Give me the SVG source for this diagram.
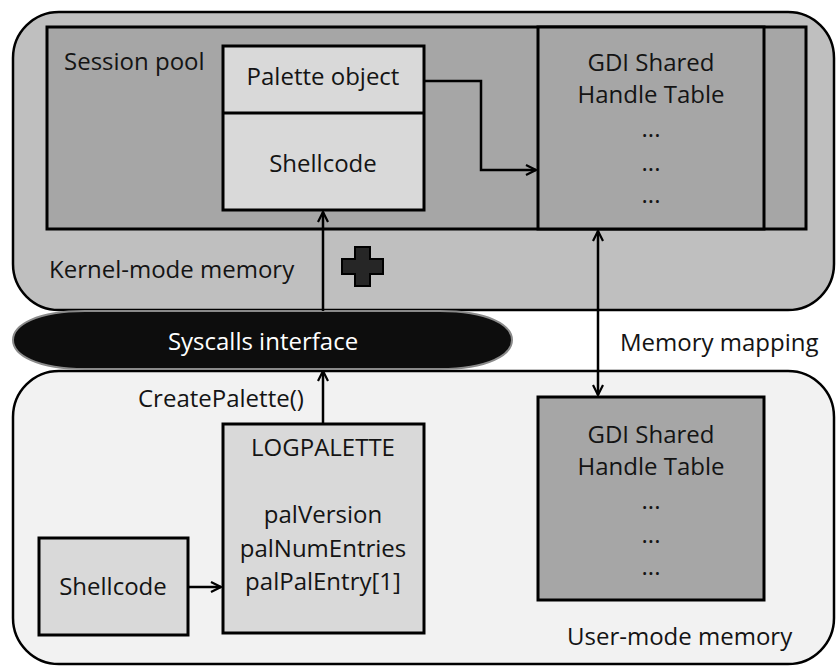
<svg xmlns="http://www.w3.org/2000/svg" width="836" height="666" viewBox="0 0 836 666">
  <style>
    text { font-family: "Open Sans", "Liberation Sans", sans-serif; font-size: 24px; fill: #141414; }
    .c { text-anchor: middle; }
    .w { fill: #ffffff; }
    .box { stroke: #000; stroke-width: 3; }
    .line { fill: none; stroke: #000; stroke-width: 2.5; }
  </style>
  <defs>
    <marker id="arrow" viewBox="0 0 12 12" refX="11" refY="6" markerWidth="12" markerHeight="12" markerUnits="userSpaceOnUse" orient="auto-start-reverse">
      <path d="M1,1 L11,6 L1,11" fill="none" stroke="#000" stroke-width="2.2"/>
    </marker>
  </defs>

  <rect width="836" height="666" fill="#ffffff"/>

  <!-- Kernel-mode memory region -->
  <g id="kernel-mode">
    <rect x="13" y="12" width="821" height="298" rx="46" ry="46" fill="#bfbfbf" stroke="#000" stroke-width="2.5"/>
    <text x="49" y="278">Kernel-mode memory</text>
  </g>

  <!-- Session pool -->
  <g id="session-pool">
    <rect x="47" y="27" width="759" height="202" fill="#a6a6a6" class="box"/>
    <text x="64" y="70">Session pool</text>
  </g>

  <!-- Kernel-side GDI shared handle table -->
  <g id="gdi-table-kernel">
    <rect x="538" y="27" width="226" height="202" fill="#a6a6a6" class="box"/>
    <text class="c" x="651" y="71">GDI Shared</text>
    <text class="c" x="651" y="103">Handle Table</text>
    <text class="c" x="651" y="137">...</text>
    <text class="c" x="651" y="171">...</text>
    <text class="c" x="651" y="203">...</text>
  </g>

  <!-- Palette object with embedded shellcode -->
  <g id="palette-object">
    <rect x="223" y="46" width="201" height="164" fill="#d9d9d9" class="box"/>
    <line x1="223" y1="113" x2="424" y2="113" stroke="#000" stroke-width="3"/>
    <text class="c" x="323" y="85">Palette object</text>
    <text class="c" x="323" y="172">Shellcode</text>
  </g>

  <!-- Plus sign -->
  <g id="plus">
    <path d="M355,247 H370 V259 H383 V274 H370 V286 H355 V274 H342 V259 H355 Z" fill="#262626" stroke="#000" stroke-width="2"/>
  </g>

  <!-- User-mode memory region -->
  <g id="user-mode">
    <rect x="13" y="371" width="821" height="293" rx="46" ry="46" fill="#f2f2f2" stroke="#000" stroke-width="2.5"/>
    <text x="567" y="645">User-mode memory</text>
  </g>

  <!-- Syscalls interface -->
  <g id="syscalls">
    <path d="M85,311 H440 C488,311 512,325 512,340 C512,355 488,369 440,369 H85 C37,369 13,355 13,340 C13,325 37,311 85,311 Z" fill="#0d0d0d" stroke="#8a8a8a" stroke-width="2"/>
    <text class="c w" x="263" y="350">Syscalls interface</text>
  </g>

  <g id="memory-mapping-label">
    <text x="620" y="351">Memory mapping</text>
  </g>

  <g id="create-palette-label">
    <text x="138" y="407">CreatePalette()</text>
  </g>

  <!-- LOGPALETTE structure -->
  <g id="logpalette">
    <rect x="223" y="424" width="201" height="209" fill="#d9d9d9" class="box"/>
    <text class="c" x="323" y="456">LOGPALETTE</text>
    <text class="c" x="323" y="523">palVersion</text>
    <text class="c" x="323" y="557">palNumEntries</text>
    <text class="c" x="323" y="590">palPalEntry[1]</text>
  </g>

  <!-- User-side shellcode buffer -->
  <g id="shellcode-user">
    <rect x="39" y="538" width="149" height="97" fill="#d9d9d9" class="box"/>
    <text class="c" x="113" y="595">Shellcode</text>
  </g>

  <!-- User-side GDI shared handle table -->
  <g id="gdi-table-user">
    <rect x="538" y="397" width="226" height="203" fill="#a6a6a6" class="box"/>
    <text class="c" x="651" y="443">GDI Shared</text>
    <text class="c" x="651" y="475">Handle Table</text>
    <text class="c" x="651" y="509">...</text>
    <text class="c" x="651" y="543">...</text>
    <text class="c" x="651" y="575">...</text>
  </g>

  <!-- Connectors -->
  <g id="connectors">
    <polyline class="line" points="424,81 481,81 481,170 536,170" marker-end="url(#arrow)"/>
    <line class="line" x1="323" y1="311" x2="323" y2="212" marker-end="url(#arrow)"/>
    <line class="line" x1="323" y1="424" x2="323" y2="371" marker-end="url(#arrow)"/>
    <line class="line" x1="188" y1="587" x2="221" y2="587" marker-end="url(#arrow)"/>
    <line class="line" x1="598" y1="231" x2="598" y2="395" marker-start="url(#arrow)" marker-end="url(#arrow)"/>
  </g>
</svg>
